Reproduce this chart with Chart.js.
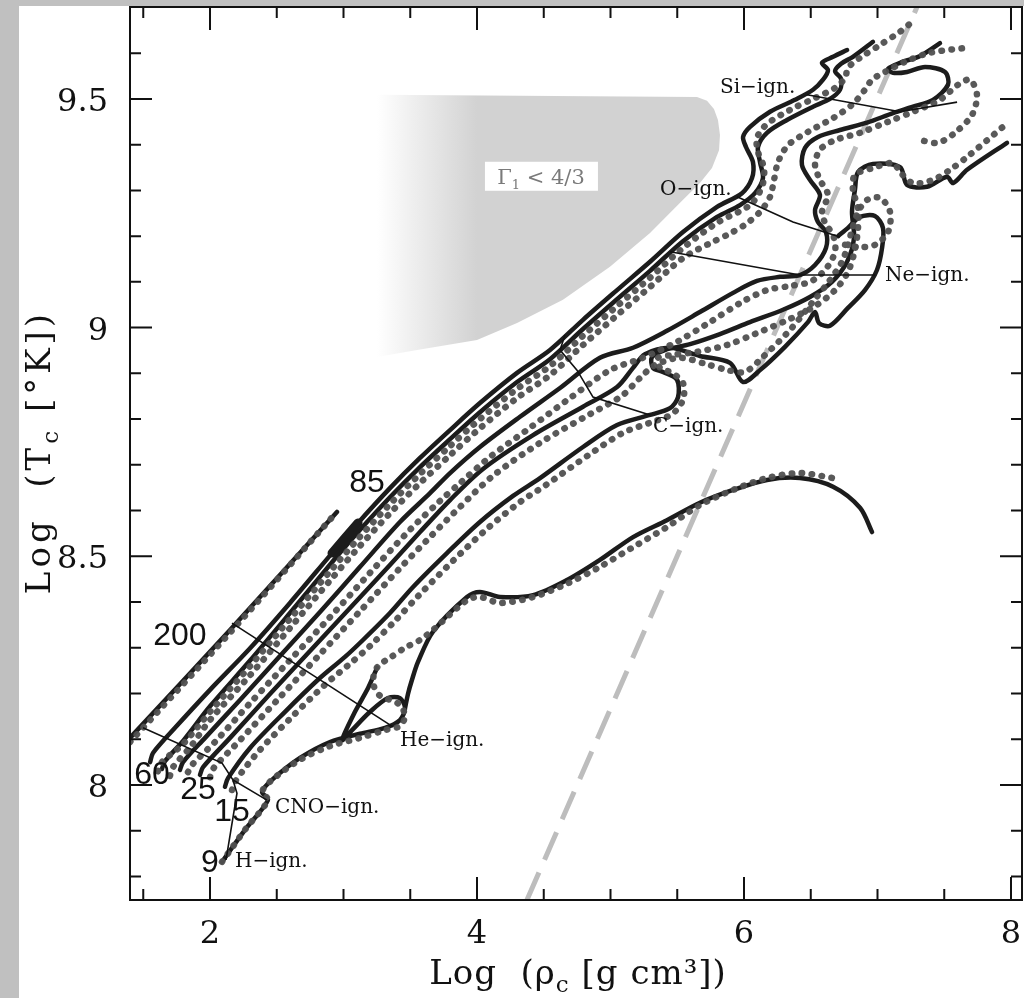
<!DOCTYPE html>
<html>
<head>
<meta charset="utf-8">
<script src="https://cdn.jsdelivr.net/npm/chart.js@4.4.1/dist/chart.umd.min.js"></script>
<style>
  html, body { margin: 0; padding: 0; background: #c0c0c0; }
  #wrap { position: absolute; left: 19px; top: 6px; width: 1005px; height: 992px; background: #fff; }
  canvas { display: block; }
</style>
</head>
<body>
<div id="wrap"><canvas id="chart" width="1005" height="992"></canvas></div>
<script>
// axis limits, log rho_c and log T_c
const X_MIN = 1.4007, X_MAX = 8.0824;
const Y_MIN = 7.7485, Y_MAX = 9.701;
const xMajor = [2, 4, 6, 8];
const xMinor = [1.5, 2.5, 3, 3.5, 4.5, 5, 5.5, 6.5, 7, 7.5];
const yMajor = [8, 8.5, 9, 9.5];
const yMinor = [7.8, 7.9, 8.1, 8.2, 8.3, 8.4, 8.6, 8.7, 8.8, 8.9, 9.1, 9.2, 9.3, 9.4, 9.6];

// evolutionary tracks, [log rho_c, log T_c]; null = break in the track
const track1Solid = [[1.401,8.103],[2.150,8.339],[2.951,8.597]];
const track1Dotted = [[1.401,8.094],[2.150,8.333],[2.929,8.590]];

const track2Solid = [[1.551,8.050],[1.573,8.070],[1.738,8.125],[2.000,8.208],[2.300,8.299],[2.599,8.398],[2.914,8.507],[3.109,8.573],[3.348,8.649],[3.573,8.715],[3.798,8.776],[4.022,8.835],[4.300,8.901],[4.547,8.951],[4.794,9.017],[5.049,9.082],[5.296,9.144],[5.543,9.209],[5.798,9.264],[5.985,9.294],[6.060,9.327],[6.067,9.362],[6.015,9.395],[5.993,9.417],[6.045,9.439],[6.195,9.472],[6.382,9.498],[6.517,9.520],[6.592,9.542],[6.629,9.563],[6.584,9.579],[6.667,9.592],[6.772,9.607]];
const track2Thick = [[2.914,8.507],[3.109,8.573]];
const track2Dotted = [[1.610,8.030],[1.640,8.050],[1.800,8.090],[2.000,8.160],[2.300,8.260],[2.599,8.363],[2.914,8.472],[3.109,8.538],[3.348,8.614],[3.573,8.680],[3.798,8.741],[4.022,8.800],[4.300,8.866],[4.547,8.916],[4.794,8.982],[5.049,9.047],[5.296,9.109],[5.543,9.174],[5.798,9.229],[6.045,9.268],[6.135,9.308],[6.150,9.349],[6.105,9.384],[6.097,9.415],[6.172,9.445],[6.345,9.476],[6.532,9.502],[6.682,9.524],[6.757,9.546],[6.779,9.568],[6.869,9.590],[7.019,9.618],[7.169,9.647],[7.258,9.668]];

const track3Solid = [[1.640,8.035],[1.663,8.052],[1.800,8.097],[2.000,8.172],[2.300,8.272],[2.599,8.376],[2.914,8.487],[3.109,8.553],[3.348,8.629],[3.573,8.695],[3.798,8.756],[4.022,8.815],[4.300,8.881],[4.547,8.931],[4.794,8.997],[5.049,9.062],[5.296,9.124],[5.543,9.189],[5.798,9.242],[5.970,9.268],[6.082,9.294],[6.142,9.327],[6.120,9.362],[6.105,9.395],[6.172,9.426],[6.322,9.454],[6.517,9.483],[6.644,9.500],[6.719,9.520],[6.727,9.544],[6.682,9.561],[6.727,9.577],[6.816,9.592],[6.966,9.625]];
const track3Dotted = [[1.700,8.020],[1.725,8.040],[1.850,8.082],[2.000,8.142],[2.300,8.240],[2.599,8.343],[2.914,8.452],[3.109,8.518],[3.348,8.594],[3.573,8.660],[3.798,8.721],[4.022,8.780],[4.300,8.846],[4.547,8.896],[4.794,8.962],[5.049,9.027],[5.296,9.089],[5.543,9.152],[5.750,9.185],[5.890,9.205],[6.007,9.225],[6.120,9.253],[6.195,9.286],[6.225,9.323],[6.255,9.362],[6.330,9.399],[6.479,9.428],[6.667,9.458],[6.816,9.489],[6.906,9.520],[6.959,9.542],[7.056,9.559],[7.206,9.581],[7.393,9.601],[7.670,9.612]];

const track4Solid = [[1.775,8.033],[1.798,8.050],[1.963,8.103],[2.225,8.186],[2.524,8.282],[2.824,8.378],[3.124,8.477],[3.423,8.575],[3.648,8.638],[3.798,8.682],[4.022,8.739],[4.322,8.805],[4.622,8.868],[4.921,8.934],[5.169,8.956],[5.423,8.993],[5.670,9.034],[5.918,9.076],[6.097,9.102],[6.270,9.111],[6.419,9.115],[6.532,9.137],[6.614,9.174],[6.614,9.209],[6.554,9.231],[6.532,9.257],[6.569,9.290],[6.494,9.323],[6.434,9.356],[6.457,9.393],[6.554,9.417],[6.719,9.432],[6.921,9.448],[7.116,9.469],[7.266,9.483],[7.416,9.498],[7.528,9.531],[7.506,9.559],[7.356,9.570],[7.221,9.559],[7.116,9.557],[7.079,9.566],[7.169,9.579],[7.319,9.594],[7.468,9.622]];
const track4Dotted = [[1.835,8.028],[1.865,8.044],[2.037,8.094],[2.300,8.179],[2.599,8.273],[2.899,8.367],[3.199,8.464],[3.498,8.558],[3.723,8.621],[3.873,8.660],[4.097,8.717],[4.397,8.781],[4.697,8.846],[4.996,8.907],[5.243,8.934],[5.498,8.969],[5.745,9.012],[5.985,9.056],[6.172,9.082],[6.345,9.091],[6.494,9.100],[6.607,9.126],[6.682,9.166],[6.667,9.203],[6.614,9.225],[6.584,9.253],[6.629,9.290],[6.569,9.323],[6.532,9.356],[6.569,9.389],[6.682,9.410],[6.869,9.426],[7.079,9.450],[7.266,9.472],[7.468,9.498],[7.603,9.531],[7.693,9.542],[7.745,9.509],[7.708,9.465],[7.580,9.426],[7.453,9.404],[7.319,9.410]];

const track5Solid = [[1.925,8.022],[1.948,8.039],[2.150,8.103],[2.449,8.199],[2.749,8.293],[3.049,8.387],[3.348,8.481],[3.573,8.553],[3.798,8.623],[4.045,8.691],[4.420,8.765],[4.794,8.827],[5.049,8.870],[5.169,8.912],[5.258,8.942],[5.446,8.956],[5.670,8.938],[5.895,8.923],[5.993,8.881],[6.120,8.907],[6.307,8.958],[6.479,9.012],[6.532,9.034],[6.562,9.010],[6.644,9.004],[6.779,9.043],[6.906,9.082],[6.996,9.126],[7.034,9.174],[7.041,9.218],[6.981,9.244],[6.869,9.242],[6.779,9.218],[6.704,9.200]];
const track5Dotted = [[2.000,8.017],[2.022,8.035],[2.225,8.098],[2.524,8.192],[2.824,8.286],[3.124,8.380],[3.423,8.474],[3.648,8.542],[3.873,8.608],[4.120,8.676],[4.472,8.748],[4.847,8.811],[5.086,8.851],[5.221,8.890],[5.333,8.918],[5.521,8.934],[5.708,8.921],[5.880,8.907],[6.007,8.903],[6.135,8.934],[6.345,8.995],[6.509,9.054],[6.644,9.104],[6.734,9.144],[6.779,9.181],[6.809,9.214],[6.854,9.253],[6.921,9.279],[7.019,9.284],[7.094,9.253],[7.079,9.209],[6.981,9.181],[6.869,9.176],[6.757,9.181]];

const track6Solid = [[2.112,7.996],[2.135,8.015],[2.300,8.081],[2.562,8.160],[2.809,8.230],[3.011,8.280],[3.146,8.317],[3.348,8.376],[3.521,8.433],[3.775,8.507],[4.022,8.575],[4.270,8.632],[4.472,8.671],[4.794,8.739],[5.049,8.787],[5.296,8.809],[5.446,8.824],[5.506,8.848],[5.498,8.886],[5.393,8.903],[5.318,8.912],[5.311,8.936],[5.408,8.951],[5.596,8.964],[5.820,8.986],[6.045,9.012],[6.292,9.039],[6.494,9.067],[6.659,9.100],[6.772,9.144],[6.824,9.196],[6.809,9.253],[6.831,9.301],[6.854,9.340],[6.966,9.358],[7.169,9.351],[7.221,9.312],[7.371,9.308],[7.521,9.330],[7.566,9.316],[7.671,9.345],[7.970,9.404]];
const track6Dotted = [[2.165,7.989],[2.187,8.007],[2.360,8.072],[2.614,8.149],[2.861,8.219],[3.064,8.269],[3.199,8.304],[3.393,8.361],[3.566,8.415],[3.820,8.490],[4.067,8.558],[4.315,8.617],[4.517,8.656],[4.839,8.722],[5.094,8.770],[5.296,8.792],[5.461,8.811],[5.543,8.842],[5.543,8.879],[5.461,8.901],[5.371,8.912],[5.356,8.934],[5.461,8.940],[5.648,8.947],[5.873,8.962],[6.097,8.988],[6.330,9.017],[6.532,9.047],[6.682,9.082],[6.779,9.122],[6.831,9.170],[6.854,9.218],[6.854,9.262],[6.816,9.301],[6.831,9.334],[6.966,9.349],[7.116,9.360],[7.169,9.340],[7.266,9.316],[7.416,9.323],[7.543,9.345],[7.671,9.373],[7.940,9.439]];

const track7Solid = [[2.090,7.832],[2.262,7.902],[2.434,7.967],[2.390,7.985],[2.464,8.011],[2.674,8.059],[2.899,8.094],[3.124,8.112],[3.311,8.125],[3.423,8.142],[3.461,8.168],[3.423,8.190],[3.333,8.190],[3.199,8.160],[3.064,8.120],[2.989,8.098],[3.086,8.160],[3.184,8.212],[3.251,8.256],null,[3.461,8.168],[3.483,8.199],[3.513,8.230],[3.558,8.269],[3.670,8.335],[3.925,8.411],[4.022,8.422],[4.172,8.411],[4.420,8.415],[4.674,8.448],[4.921,8.492],[5.169,8.542],[5.423,8.579],[5.670,8.617],[5.918,8.645],[6.172,8.667],[6.419,8.671],[6.667,8.652],[6.869,8.606],[6.959,8.553]];
const track7Dotted = [[2.090,7.832],[2.262,7.902],[2.434,7.967],[2.390,7.985],[2.464,8.011],[2.674,8.055],[2.899,8.085],[3.124,8.103],[3.311,8.120],[3.423,8.129],[3.461,8.151],[3.423,8.175],[3.348,8.186],[3.273,8.195],[3.228,8.216],[3.228,8.243],[3.266,8.262],[3.348,8.278],[3.461,8.300],[3.573,8.317],[3.670,8.339],[3.925,8.404],[4.022,8.411],[4.172,8.398],[4.420,8.411],[4.674,8.440],[4.921,8.477],[5.169,8.520],[5.423,8.564],[5.670,8.612],[5.918,8.645],[6.172,8.671],[6.419,8.682],[6.667,8.671]];

// burning-stage loci joining the tracks
const zamsLine = [[1.498,8.125],[2.090,8.048],[2.172,8.011],[2.427,7.967]];
const hLine = [[2.172,8.011],[2.202,7.982],[2.120,7.836]];
const heLine = [[2.165,8.354],[3.371,8.127]];
const cLine = [[4.659,8.984],[4.622,8.951],[4.749,8.907],[4.869,8.848],[5.296,8.809]];
const oLine = [[5.948,9.286],[6.367,9.231],[6.719,9.198]];
const neLine = [[5.446,9.166],[6.419,9.115],[6.981,9.115]];
const siLine = [[6.472,9.509],[7.169,9.472],[7.596,9.493]];

// grey long dashed line
const dashedLine = [[4.374,7.7485],[7.296,9.701]];

// Gamma_1 < 4/3 instability region outline
const gammaRho = [3.251,5.648,5.723,5.775,5.805,5.820,5.813,5.760,5.670,5.521,5.296,4.996,4.644,4.300,4.000,3.551,3.251];
const gammaT = [9.509,9.504,9.496,9.478,9.454,9.421,9.388,9.349,9.316,9.273,9.207,9.133,9.061,9.010,8.973,8.951,8.936];

// labels
const massText = ['200', '85', '60', '25', '15', '9'];
const massRho = [1.775, 3.176, 1.566, 1.910, 2.165, 2.000];
const massT = [8.326, 8.660, 8.022, 7.989, 7.941, 7.829];
const ignText = ['Si\u2212ign.', 'O\u2212ign.', 'Ne\u2212ign.', 'C\u2212ign.', 'He\u2212ign.', 'CNO\u2212ign.', 'H\u2212ign.'];
const ignRho = [5.820, 5.371, 7.056, 5.318, 3.423, 2.487, 2.187];
const ignT = [9.524, 9.301, 9.113, 8.783, 8.096, 7.950, 7.832];

const SERIF = '"DejaVu Serif", serif';
const pts = a => a.map(p => p ? { x: p[0], y: p[1] } : { x: null, y: null });

function solid(d, w = 4.5) {
  return { data: pts(d), borderColor: '#1c1c1c', borderWidth: w, tension: 0.3,
    borderCapStyle: 'round', borderJoinStyle: 'round', order: 2 };
}
function dotted(d) {
  return { data: pts(d), borderColor: 'rgba(80,80,80,0.95)', borderWidth: 6.5,
    borderDash: [0.5, 9.5], borderCapStyle: 'round', tension: 0.3, order: 1 };
}
function thin(d) {
  return { data: pts(d), borderColor: '#111', borderWidth: 1.6, tension: 0, order: 0 };
}

const datasets = [
  { data: pts(dashedLine), borderColor: '#bdbdbd', borderWidth: 5, borderDash: [30, 14], tension: 0, order: 5 },
  solid(track1Solid), dotted(track1Dotted),
  solid(track2Solid), solid(track2Thick, 9), dotted(track2Dotted),
  solid(track3Solid), dotted(track3Dotted),
  solid(track4Solid), dotted(track4Dotted),
  solid(track5Solid), dotted(track5Dotted),
  solid(track6Solid), dotted(track6Dotted),
  solid(track7Solid), dotted(track7Dotted),
  thin(zamsLine), thin(hLine), thin(heLine), thin(cLine), thin(oLine), thin(neLine), thin(siLine)
];

// shaded region under the tracks
const gammaRegion = {
  id: 'gammaRegion',
  beforeDatasetsDraw(chart) {
    const { ctx, scales: { x, y } } = chart;
    const x0 = x.getPixelForValue(gammaRho[0]);
    const grad = ctx.createLinearGradient(x0, 0, x0 + 100, 0);
    grad.addColorStop(0, '#ffffff');
    grad.addColorStop(1, '#d2d2d2');
    ctx.save();
    ctx.beginPath();
    gammaRho.forEach((r, i) => {
      const px = x.getPixelForValue(r), py = y.getPixelForValue(gammaT[i]);
      i ? ctx.lineTo(px, py) : ctx.moveTo(px, py);
    });
    ctx.closePath();
    ctx.fillStyle = grad;
    ctx.fill();
    ctx.restore();
  }
};

function drawParts(ctx, parts, cx, baseY) {
  let total = 0;
  parts.forEach(p => { ctx.font = p.size + 'px ' + SERIF; total += ctx.measureText(p.t).width; });
  let px = cx - total / 2;
  parts.forEach(p => {
    ctx.font = p.size + 'px ' + SERIF;
    ctx.fillText(p.t, px, baseY + (p.dy || 0));
    px += ctx.measureText(p.t).width;
  });
  return total;
}

// frame, inward ticks on all sides, tick labels, annotations and axis titles
const decorations = {
  id: 'decorations',
  afterDatasetsDraw(chart) {
    const { ctx, chartArea: a, scales: { x, y } } = chart;
    ctx.save();

    // Gamma_1 label box
    const gx = x.getPixelForValue(4.479), gy = y.getPixelForValue(9.332);
    ctx.fillStyle = '#fff';
    ctx.fillRect(gx - 56, gy - 14, 113, 29);
    ctx.fillStyle = '#7a7a7a';
    ctx.textAlign = 'left';
    ctx.textBaseline = 'alphabetic';
    drawParts(ctx, [{ t: '\u0393', size: 21 }, { t: '1', size: 13, dy: 5 }, { t: ' < 4/3', size: 21 }], gx, gy + 8);

    // ignition labels
    ctx.fillStyle = '#111';
    ctx.font = '20px ' + SERIF;
    ctx.textBaseline = 'middle';
    ignText.forEach((t, i) => ctx.fillText(t, x.getPixelForValue(ignRho[i]), y.getPixelForValue(ignT[i])));

    // mass labels
    ctx.font = '32px "Liberation Sans", Arial, sans-serif';
    ctx.textAlign = 'center';
    massText.forEach((t, i) => ctx.fillText(t, x.getPixelForValue(massRho[i]), y.getPixelForValue(massT[i])));

    // frame and ticks
    ctx.strokeStyle = '#111';
    ctx.lineWidth = 2;
    ctx.strokeRect(a.left, a.top, a.right - a.left, a.bottom - a.top);
    ctx.beginPath();
    const xTick = (v, len) => {
      const px = x.getPixelForValue(v);
      ctx.moveTo(px, a.bottom); ctx.lineTo(px, a.bottom - len);
      ctx.moveTo(px, a.top); ctx.lineTo(px, a.top + len);
    };
    const yTick = (v, len) => {
      const py = y.getPixelForValue(v);
      ctx.moveTo(a.left, py); ctx.lineTo(a.left + len, py);
      ctx.moveTo(a.right, py); ctx.lineTo(a.right - len, py);
    };
    xMajor.forEach(v => xTick(v, 23));
    xMinor.forEach(v => xTick(v, 11));
    yMajor.forEach(v => yTick(v, 22));
    yMinor.forEach(v => yTick(v, 11));
    ctx.stroke();

    // tick labels
    ctx.fillStyle = '#111';
    ctx.font = '32px ' + SERIF;
    ctx.textBaseline = 'alphabetic';
    ctx.textAlign = 'center';
    xMajor.forEach(v => ctx.fillText(String(v), x.getPixelForValue(v), a.bottom + 43));
    ctx.textAlign = 'right';
    yMajor.forEach(v => ctx.fillText(String(v), a.left - 22, y.getPixelForValue(v) + 12));

    // axis titles
    ctx.textAlign = 'left';
    ctx.letterSpacing = '1px';
    drawParts(ctx, [{ t: 'Log  (\u03c1', size: 34 }, { t: 'c', size: 23, dy: 8 }, { t: ' [g cm\u00b3])', size: 34 }], 559, 978);
    ctx.translate(31, 446);
    ctx.rotate(-Math.PI / 2);
    ctx.letterSpacing = '4px';
    drawParts(ctx, [{ t: 'Log  (T', size: 34 }, { t: 'c', size: 23, dy: 8 }, { t: ' [\u00b0K])', size: 34 }], 0, 0);
    ctx.restore();
  }
};

new Chart(document.getElementById('chart'), {
  type: 'line',
  data: { datasets },
  options: {
    responsive: false,
    animation: false,
    devicePixelRatio: 1,
    layout: { padding: { top: 1, right: 2, left: 0, bottom: 0 } },
    elements: { point: { radius: 0 } },
    plugins: { legend: { display: false }, tooltip: { enabled: false } },
    scales: {
      x: {
        type: 'linear', min: X_MIN, max: X_MAX,
        afterFit: s => { s.height = 98; },
        grid: { display: false, drawTicks: false },
        border: { display: false },
        ticks: { display: false }
      },
      y: {
        type: 'linear', min: Y_MIN, max: Y_MAX,
        afterFit: s => { s.width = 111; },
        grid: { display: false, drawTicks: false },
        border: { display: false },
        ticks: { display: false }
      }
    }
  },
  plugins: [gammaRegion, decorations]
});
</script>
</body>
</html>
